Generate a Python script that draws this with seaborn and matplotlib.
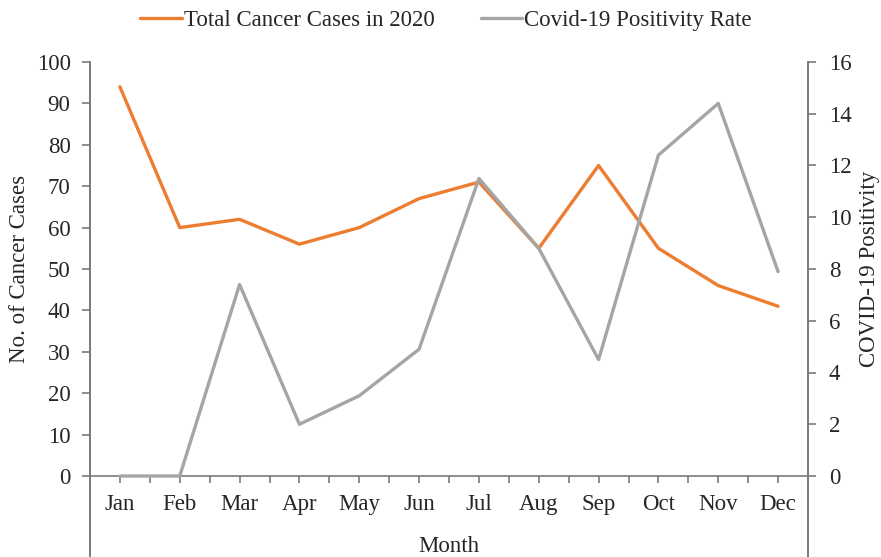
import matplotlib
matplotlib.use("Agg")
import matplotlib.pyplot as plt
import seaborn as sns
import pandas as pd
import numpy as np

months = ["Jan", "Feb", "Mar", "Apr", "May", "Jun", "Jul", "Aug", "Sep", "Oct", "Nov", "Dec"]
cancer_cases = [94, 60, 62, 56, 60, 67, 71, 55, 75, 55, 46, 41]
covid_rate = [0, 0, 7.4, 2.0, 3.1, 4.9, 11.5, 8.8, 4.5, 12.4, 14.4, 7.9]
left_ticks = [0, 10, 20, 30, 40, 50, 60, 70, 80, 90, 100]
right_ticks = [0, 2, 4, 6, 8, 10, 12, 14, 16]

sns.set_theme(style="white")
plt.rcParams['font.family'] = ['Liberation Serif', 'DejaVu Serif']
FS = 16.5
TXT = '#262626'
SP = '#7a7a7a'
ORANGE = '#ED7D31'
GRAY = '#A5A5A5'

df = pd.DataFrame({"Month": months, "Cases": cancer_cases, "Covid": covid_rate})

W, H = 881, 557
fig = plt.figure(figsize=(W / 100, H / 100), dpi=100)
ax_left, ax_right, ax_top = 90 / W, 808 / W, 1 - 62 / H
ax = fig.add_axes([ax_left, 0.0, ax_right - ax_left, ax_top])
ax2 = ax.twinx()

sns.lineplot(data=df, x="Month", y="Cases", ax=ax, color=ORANGE, linewidth=2.4,
             label="Total Cancer Cases in 2020", legend=False, sort=False)
sns.lineplot(data=df, x="Month", y="Covid", ax=ax2, color=GRAY, linewidth=2.4,
             label="Covid-19 Positivity Rate", legend=False, sort=False)

# pixel mapping: 100 at top (62px), 0 at 476px, bottom at 557px
ppu = (476 - 62) / 100.0
ymin = -(H - 476) / ppu
ax.set_ylim(ymin, 100)
ax2.set_ylim(ymin * 0.16, 16)
ax.set_xlim(-0.5, 11.5)

ax.set_yticks(left_ticks)
ax2.set_yticks(right_ticks)
ax.set_xticks(range(len(months)))
ax.set_xticklabels(months)
ax.set_xticks(np.arange(0, 11.01, 0.5), minor=True)

for a in (ax, ax2):
    for s in a.spines.values():
        s.set_color(SP)
        s.set_linewidth(1.2)
    a.spines['top'].set_visible(False)
ax.spines['bottom'].set_position(('data', 0))
ax2.spines['bottom'].set_visible(False)

ax.tick_params(axis='y', which='major', direction='out', length=6, width=1.2, color=SP,
               labelsize=FS, labelcolor=TXT, pad=8, left=True)
ax2.tick_params(axis='y', which='major', direction='out', length=6, width=1.2, color=SP,
                labelsize=FS, labelcolor=TXT, pad=9, right=True)
ax.tick_params(axis='x', which='major', direction='out', length=5, width=1.2, color=SP,
               labelsize=FS, labelcolor=TXT, pad=8, bottom=True)
ax.tick_params(axis='x', which='minor', direction='out', length=5, width=1.2, color=SP, bottom=True)

ax.set_xlabel("Month", fontsize=FS, color=TXT)
ax.xaxis.set_label_coords(0.5, (H - 546) / (H - 62))
ax.xaxis.label.set_va('center')
ax.set_ylabel("No. of Cancer Cases", fontsize=FS, color=TXT)
ax.yaxis.set_label_coords((20 - 90) / (808 - 90), (H - 269) / (H - 62))
ax.yaxis.label.set_va('center')
ax2.set_ylabel("COVID-19 Positivity", fontsize=FS, color=TXT)
ax2.yaxis.set_label_coords((870 - 90) / (808 - 90), (H - 269) / (H - 62))
ax2.yaxis.label.set_va('center')

h1, l1 = ax.get_legend_handles_labels()
h2, l2 = ax2.get_legend_handles_labels()
fig.legend(h1 + h2, l1 + l2, loc='center', bbox_to_anchor=(446 / W, 1 - 20 / H), ncol=2,
           frameon=False, fontsize=FS, handlelength=1.8, handletextpad=0.1,
           columnspacing=2.0, labelcolor=TXT)

fig.savefig("out.png", dpi=100)
